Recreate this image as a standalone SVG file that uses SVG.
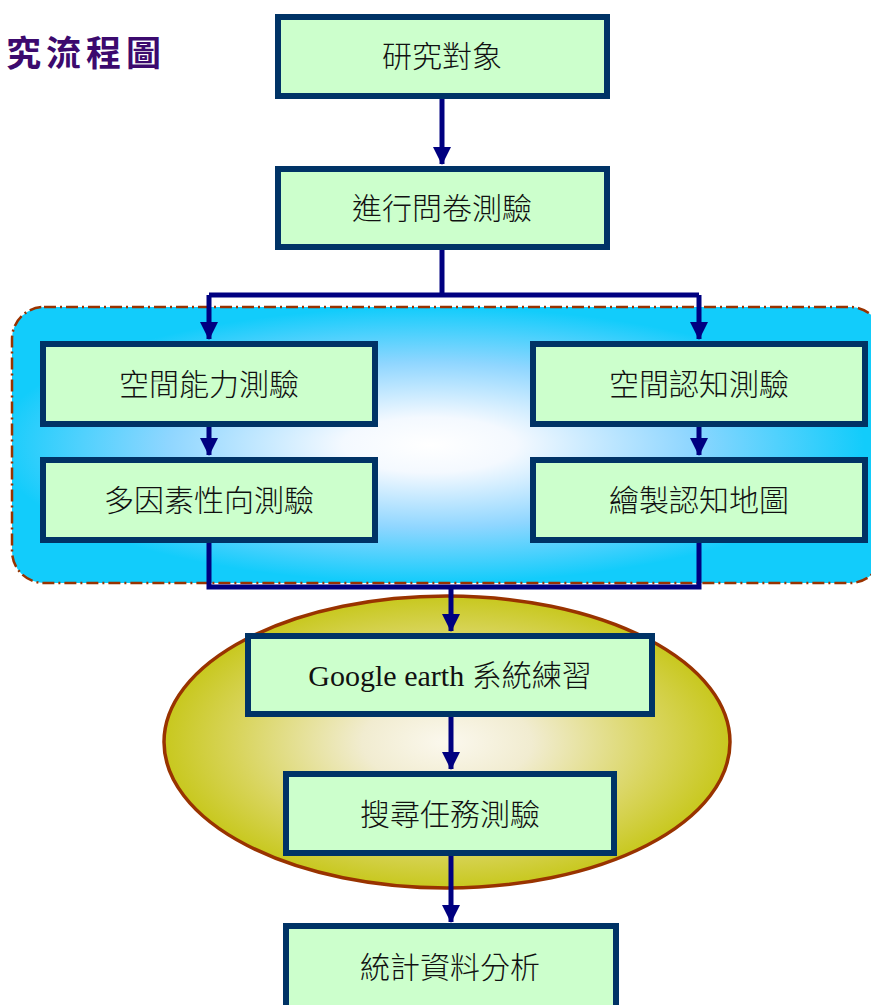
<svg xmlns="http://www.w3.org/2000/svg" width="871" height="1005" viewBox="0 0 871 1005">
<defs>
<radialGradient id="blueG" cx="0.48" cy="0.5" r="0.5">
<stop offset="0" stop-color="#ffffff"/>
<stop offset="0.2" stop-color="#f4f9ff"/>
<stop offset="0.6" stop-color="#8fd6ff"/>
<stop offset="1" stop-color="#12ccfb"/>
</radialGradient>
<radialGradient id="yelG" cx="0.5" cy="0.5" r="0.5">
<stop offset="0" stop-color="#fbf8ee"/>
<stop offset="0.3" stop-color="#f1ecd0"/>
<stop offset="0.75" stop-color="#d8d45a"/>
<stop offset="1" stop-color="#c8c81e"/>
</radialGradient>
<marker id="arr" markerWidth="18" markerHeight="18" refX="17" refY="9" orient="auto" markerUnits="userSpaceOnUse" viewBox="0 0 18 18">
<path d="M0,0 L18,9 L0,18 Z" fill="#000080"/>
</marker>
<style>
.box{fill:#ccffcc;stroke:#003366;stroke-width:6}
.lbl{font-family:"Noto Sans CJK TC","Noto Sans CJK SC",sans-serif;font-size:30px;fill:#111;text-anchor:middle;font-weight:300}
.con{fill:none;stroke:#000080;stroke-width:5}
</style>
</defs>
<text x="6" y="66" style="font-family:'Noto Sans CJK TC',sans-serif;font-size:35px;font-weight:bold;fill:#3c0a6e;letter-spacing:5px">究流程圖</text>
<g id="groupA">
<rect x="12" y="307" width="870" height="276" rx="32" ry="32" fill="url(#blueG)" stroke="#993300" stroke-width="2.5" stroke-dasharray="12,4,2,4"/>
</g>
<g id="groupB">
<ellipse cx="447" cy="742" rx="283" ry="146" fill="url(#yelG)" stroke="#993300" stroke-width="3.5"/>
</g>
<g id="connectors">
<path class="con" d="M442,99 V164" marker-end="url(#arr)"/>
<path class="con" d="M442,250 V295 M209,295 H699"/>
<path class="con" d="M209,295 V339" marker-end="url(#arr)"/>
<path class="con" d="M699,295 V339" marker-end="url(#arr)"/>
<path class="con" d="M209,427 V455" marker-end="url(#arr)"/>
<path class="con" d="M699,427 V455" marker-end="url(#arr)"/>
<path class="con" d="M209,543 V587 H699 V543"/>
<path class="con" d="M451,587 V631" marker-end="url(#arr)"/>
<path class="con" d="M451,716 V769" marker-end="url(#arr)"/>
<path class="con" d="M451,856 V922" marker-end="url(#arr)"/>
</g>
<g id="n1"><rect class="box" x="278" y="17" width="329" height="79"/><text class="lbl" x="442" y="67">研究對象</text></g>
<g id="n2"><rect class="box" x="278" y="169" width="329" height="78"/><text class="lbl" x="442" y="219">進行問卷測驗</text></g>
<g id="n3"><rect class="box" x="43" y="344" width="332" height="80"/><text class="lbl" x="209" y="395">空間能力測驗</text></g>
<g id="n4"><rect class="box" x="43" y="460" width="332" height="80"/><text class="lbl" x="209" y="511">多因素性向測驗</text></g>
<g id="n5"><rect class="box" x="533" y="344" width="332" height="80"/><text class="lbl" x="699" y="395">空間認知測驗</text></g>
<g id="n6"><rect class="box" x="533" y="460" width="332" height="80"/><text class="lbl" x="699" y="511">繪製認知地圖</text></g>
<g id="n7"><rect class="box" x="248" y="636" width="404" height="78"/><text class="lbl" x="450" y="686"><tspan style="font-family:'Liberation Serif',serif;font-weight:normal">Google earth </tspan>系統練習</text></g>
<g id="n8"><rect class="box" x="286" y="774" width="328" height="79"/><text class="lbl" x="450" y="825">搜尋任務測驗</text></g>
<g id="n9"><rect class="box" x="286" y="926" width="330" height="85"/><text class="lbl" x="450" y="978">統計資料分析</text></g>
</svg>
